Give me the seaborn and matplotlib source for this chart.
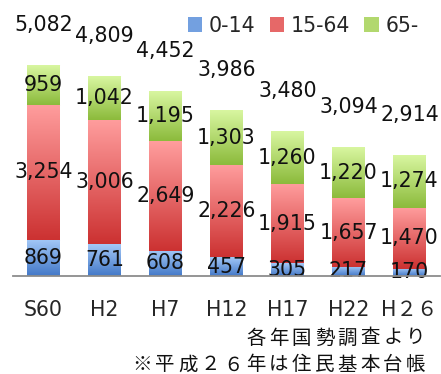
import matplotlib.pyplot as plt
import matplotlib.colors as mcolors
from matplotlib.patches import Patch
import numpy as np
import pandas as pd
import seaborn as sns

years = ['S60', 'H2', 'H7', 'H12', 'H17', 'H22', 'H２６']
age_0_14 = [869, 761, 608, 457, 305, 217, 170]
age_15_64 = [3254, 3006, 2649, 2226, 1915, 1657, 1470]
age_65 = [959, 1042, 1195, 1303, 1260, 1220, 1274]
totals = [5082, 4809, 4452, 3986, 3480, 3094, 2914]
groups = ['0-14', '15-64', '65-']
notes = ['各年国勢調査より', '※平成２６年は住民基本台帳']

# gradient colours (top, bottom) per group
grad = {
    '0-14': ('#a3c8f7', '#4479c8'),
    '15-64': ('#ff9d9d', '#cc3232'),
    '65-': ('#d8f6a0', '#8cbb3c'),
}

df = pd.DataFrame({'year': years, '0-14': age_0_14, '15-64': age_15_64, '65-': age_65})
df['c1'] = df['0-14']
df['c2'] = df['0-14'] + df['15-64']
df['c3'] = df['c2'] + df['65-']

sns.set_style('white')
plt.rcParams['font.family'] = ['DejaVu Sans', 'Noto Sans CJK JP']

fig = plt.figure(figsize=(4.41, 3.74), dpi=100)
ax = fig.add_axes([13 / 441, 98 / 374, 427 / 441, 276 / 374])

fs = 14.8
width = 0.54
# stacked bars via cumulative layers, back to front
sns.barplot(data=df, x='year', y='c3', color=grad['65-'][1], width=width, saturation=1, ax=ax)
sns.barplot(data=df, x='year', y='c2', color=grad['15-64'][1], width=width, saturation=1, ax=ax)
sns.barplot(data=df, x='year', y='c1', color=grad['0-14'][1], width=width, saturation=1, ax=ax)

# gradient overlay for every segment
n = len(years)
patches = ax.patches[:n]
lows = {'0-14': [0] * n, '15-64': list(df['c1']), '65-': list(df['c2'])}
highs = {'0-14': list(df['c1']), '15-64': list(df['c2']), '65-': list(df['c3'])}
for g in groups:
    top, bot = mcolors.to_rgb(grad[g][0]), mcolors.to_rgb(grad[g][1])
    t = np.linspace(0, 1, 64)[:, None]
    img = (np.array(top)[None, :] * (1 - t) + np.array(bot)[None, :] * t)[:, None, :]
    for i, p in enumerate(patches):
        x0 = p.get_x()
        x1 = x0 + p.get_width()
        ax.imshow(img, extent=(x0, x1, lows[g][i], highs[g][i]), origin='upper',
                  aspect='auto', zorder=3, interpolation='bilinear')
        # label in the middle of the segment
        ax.text(i, (lows[g][i] + highs[g][i]) / 2, f'{highs[g][i] - lows[g][i]:,}',
                ha='center', va='center', fontsize=fs, color='#111111', zorder=5)

for i, tot in enumerate(totals):
    ax.annotate(f'{tot:,}', (i, tot), xytext=(0, 29), textcoords='offset points',
                ha='center', va='center', fontsize=fs, color='#111111', zorder=5)

ax.set_xlim(-0.5, len(years) - 0.5)
ax.set_ylim(0, 6650)
ax.set_xlabel('')
ax.set_ylabel('')
ax.set_yticks([])
ax.tick_params(axis='x', length=0, pad=17, labelsize=fs)
for s in ['top', 'left', 'right']:
    ax.spines[s].set_visible(False)
ax.spines['bottom'].set_color('#8c8c8c')
ax.spines['bottom'].set_linewidth(1.3)
ax.spines['bottom'].set_zorder(6)

handles = [Patch(facecolor=mcolors.to_hex(np.mean([mcolors.to_rgb(c) for c in grad[g]], axis=0)),
                 edgecolor='none') for g in groups]
fig.legend(handles, groups, loc='center', bbox_to_anchor=(303 / 441, 1 - 26 / 374), ncol=3,
           frameon=False, fontsize=fs, handlelength=0.72, handleheight=0.72,
           handletextpad=0.3, columnspacing=0.7, borderaxespad=0, borderpad=0)

# footnotes, spaced out character by character
cjk = ['Noto Sans CJK JP', 'DejaVu Sans']
pitch = 22.8
for text, yc in zip(notes, [338, 365]):
    for k, ch in enumerate(reversed(text)):
        xc = 427 - pitch / 2 - k * pitch
        fig.text(xc / 441, 1 - yc / 374, ch, ha='center', va='center',
                 fontsize=14, family=cjk, color='#111111')

fig.savefig('out.png', dpi=100)
